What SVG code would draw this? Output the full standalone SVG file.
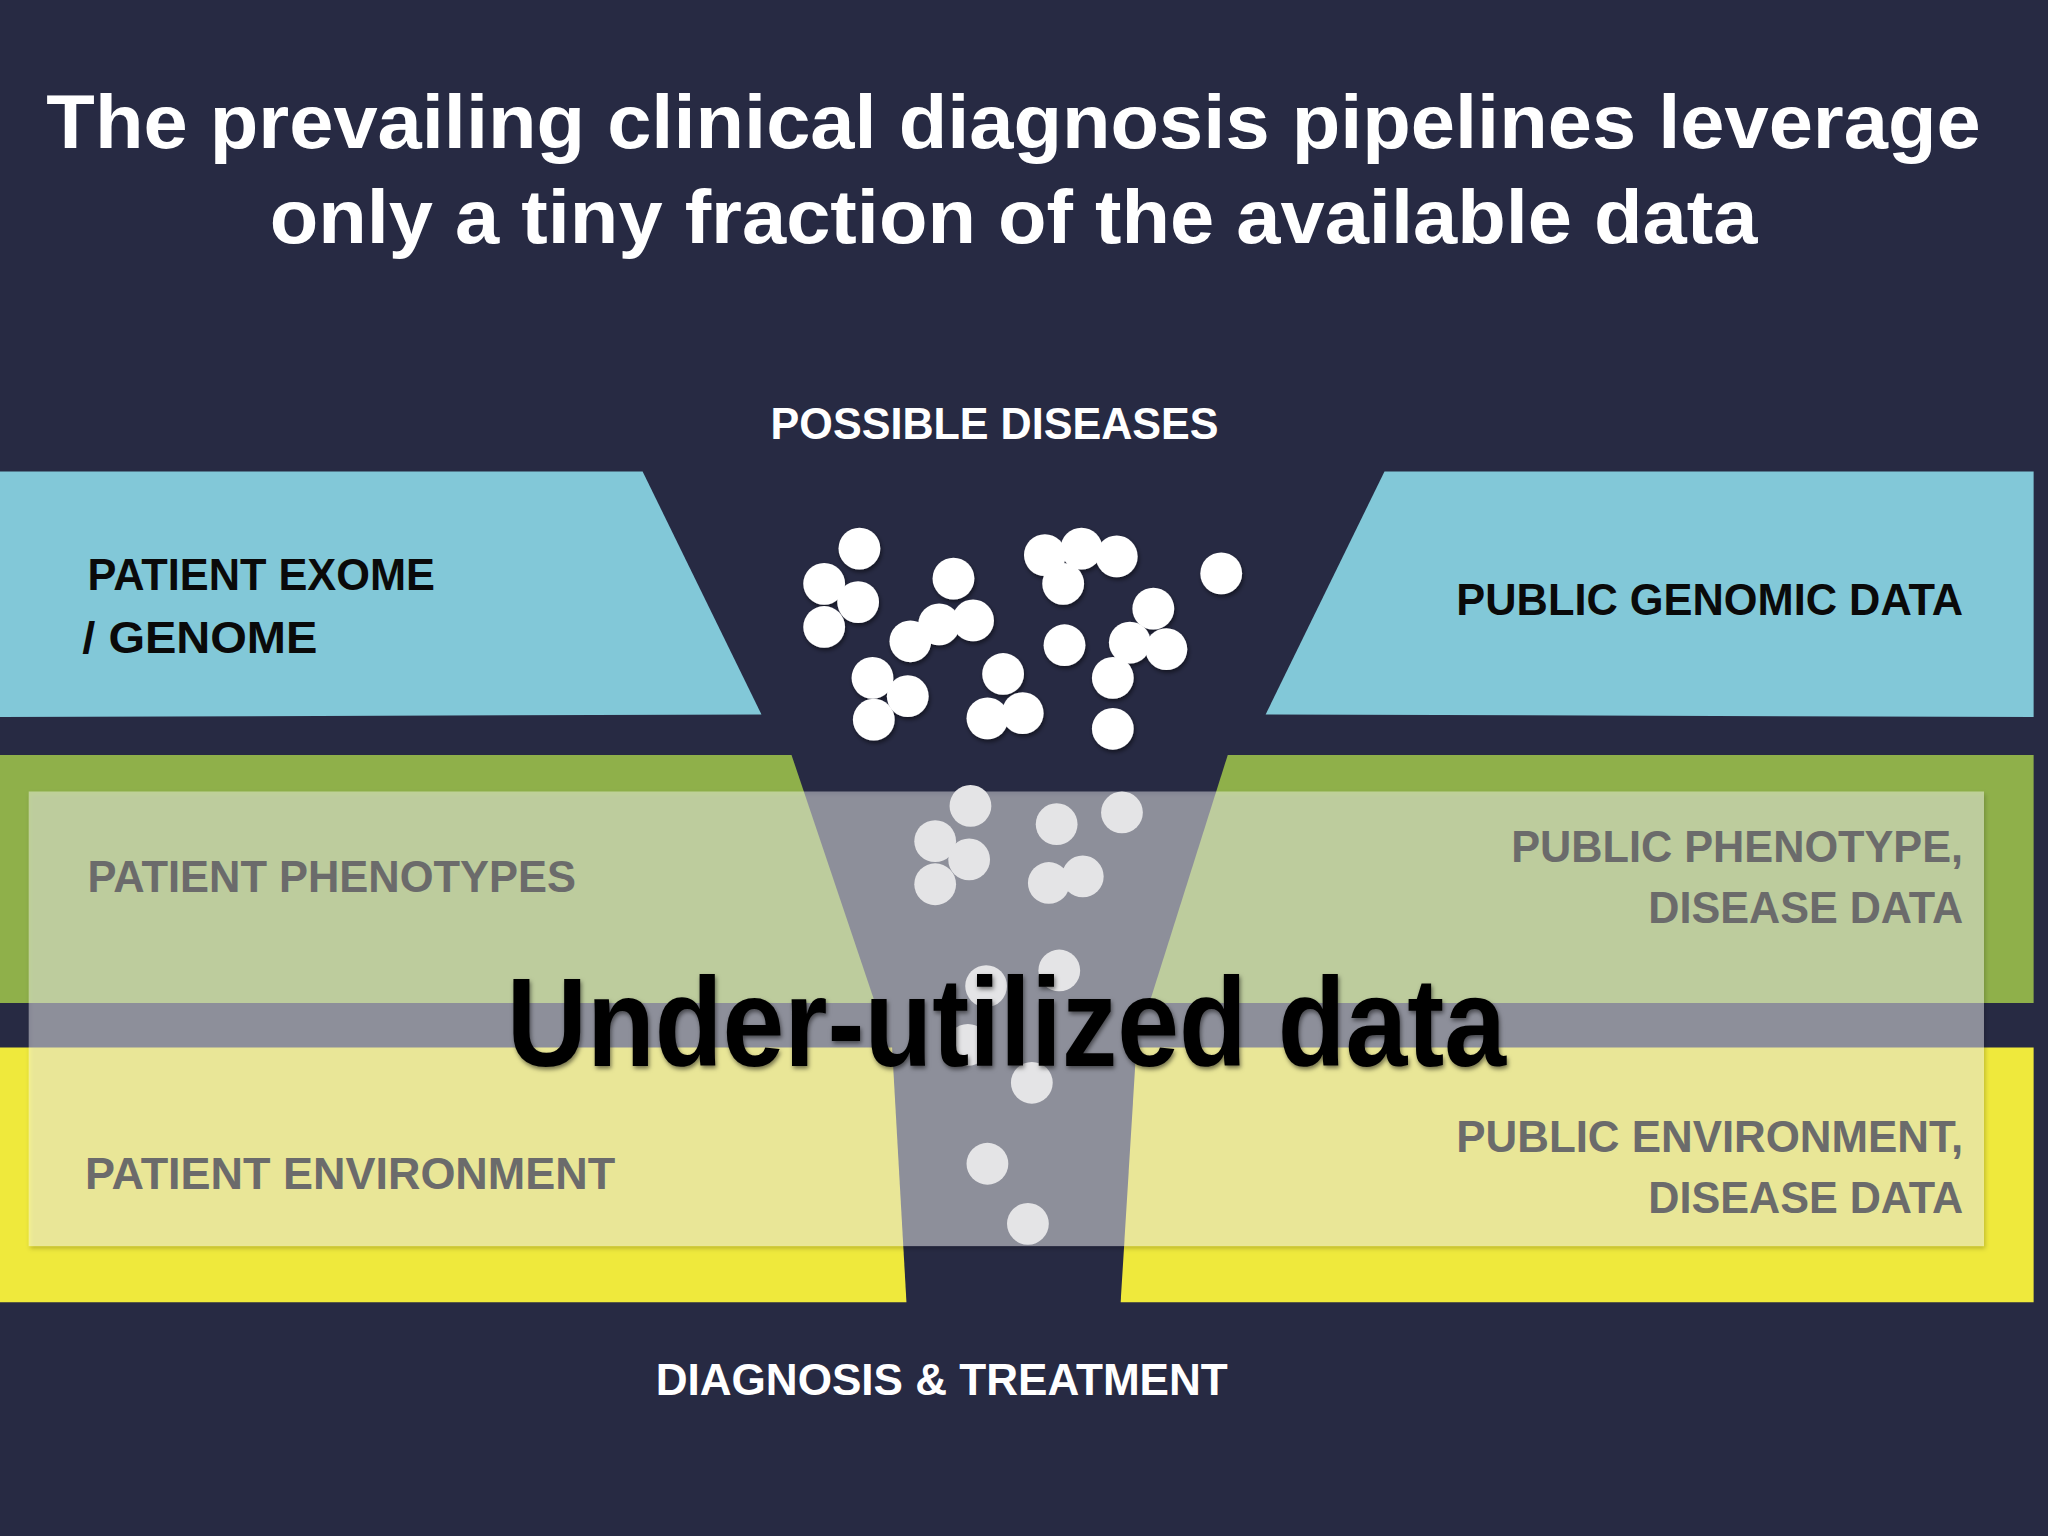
<svg xmlns="http://www.w3.org/2000/svg" width="2048" height="1536" viewBox="0 0 2048 1536">
<defs>
<style>
.lbl{font-family:"Liberation Sans","DejaVu Sans",sans-serif;font-size:34px;font-weight:bold;}
.w{fill:#ffffff}.k{fill:#0a0a0a}.g{fill:#6b6b6b}
.d{fill:#ffffff}.d2{fill:#e4e4e6}
</style>
<filter id="sh" x="-50%" y="-50%" width="200%" height="200%"><feDropShadow dx="1" dy="2" stdDeviation="1.5" flood-color="#000" flood-opacity="0.5"/></filter>
</defs>
<rect width="2048" height="1536" fill="#272a43"/>
<g transform="scale(1.30612)">
<g id="title" font-family="Liberation Sans,Arial,sans-serif" font-weight="bold" font-size="58" fill="#fff" text-anchor="middle">
<text x="776" y="113" textLength="1481" lengthAdjust="spacingAndGlyphs">The prevailing clinical diagnosis pipelines leverage</text>
<text x="776" y="186" textLength="1139" lengthAdjust="spacingAndGlyphs">only a tiny fraction of the available data</text>
</g>
<g id="bands">
<polygon points="0,361 492,361 583,547 0,549" fill="#82c8d8"/>
<polygon points="1060,361 1557,361 1557,549 969,547" fill="#82c8d8"/>
<polygon points="0,578 606,578 670,768 0,768" fill="#8fb04a"/>
<polygon points="940,578 1557,578 1557,768 880,768" fill="#8fb04a"/>
<polygon points="0,802 683,802 694,997 0,997" fill="#efe93c"/>
<polygon points="870,802 1557,802 1557,997 858,997" fill="#efe93c"/>
</g>
<g id="dots" filter="url(#sh)">
<circle class="d" cx="658" cy="420" r="16"/><circle class="d" cx="631" cy="447" r="16"/><circle class="d" cx="657" cy="461" r="16"/><circle class="d" cx="631" cy="480" r="16"/><circle class="d" cx="730" cy="443" r="16"/><circle class="d" cx="719" cy="478" r="16"/><circle class="d" cx="745" cy="475" r="16"/><circle class="d" cx="697" cy="491" r="16"/><circle class="d" cx="800" cy="425" r="16"/><circle class="d" cx="828" cy="420" r="16"/><circle class="d" cx="855" cy="426" r="16"/><circle class="d" cx="814" cy="447" r="16"/><circle class="d" cx="935" cy="439" r="16"/><circle class="d" cx="883" cy="466" r="16"/><circle class="d" cx="815" cy="494" r="16"/><circle class="d" cx="865" cy="492" r="16"/><circle class="d" cx="893" cy="497" r="16"/><circle class="d" cx="668" cy="519" r="16"/><circle class="d" cx="695" cy="533" r="16"/><circle class="d" cx="768" cy="516" r="16"/><circle class="d" cx="852" cy="519" r="16"/><circle class="d" cx="669" cy="551" r="16"/><circle class="d" cx="756" cy="550" r="16"/><circle class="d" cx="783" cy="546" r="16"/><circle class="d" cx="852" cy="558" r="16"/>
</g>
<rect id="overlay" x="22" y="606" width="1497" height="348" fill="#ffffff" fill-opacity="0.42" filter="url(#sh)"/>
<g id="dots-lower">
<circle class="d2" cx="743" cy="617" r="16"/><circle class="d2" cx="809" cy="631" r="16"/><circle class="d2" cx="859" cy="622" r="16"/><circle class="d2" cx="716" cy="644" r="16"/><circle class="d2" cx="742" cy="658" r="16"/><circle class="d2" cx="716" cy="677" r="16"/><circle class="d2" cx="803" cy="676" r="16"/><circle class="d2" cx="829" cy="671" r="16"/><circle class="d2" cx="811" cy="743" r="16"/><circle class="d2" cx="755" cy="755" r="16"/><circle class="d2" cx="741" cy="800" r="16"/><circle class="d2" cx="790" cy="829" r="16"/><circle class="d2" cx="756" cy="891" r="16"/><circle class="d2" cx="787" cy="937" r="16"/>
</g>
<g id="possible-diseases"><text class="lbl w" x="590" y="336" textLength="343" lengthAdjust="spacingAndGlyphs">POSSIBLE DISEASES</text></g>
<g id="patient-exome"><text class="lbl k" x="67" y="452" textLength="266" lengthAdjust="spacingAndGlyphs">PATIENT EXOME</text><text class="lbl k" x="63" y="500" textLength="180" lengthAdjust="spacingAndGlyphs">/ GENOME</text></g>
<g id="public-genomic"><text class="lbl k" x="1115" y="471" textLength="388" lengthAdjust="spacingAndGlyphs">PUBLIC GENOMIC DATA</text></g>
<g id="patient-phenotypes"><text class="lbl g" x="67" y="683" textLength="374" lengthAdjust="spacingAndGlyphs">PATIENT PHENOTYPES</text></g>
<g id="public-phenotype"><text class="lbl g" x="1157" y="660" textLength="346" lengthAdjust="spacingAndGlyphs">PUBLIC PHENOTYPE,</text><text class="lbl g" x="1262" y="707" textLength="241" lengthAdjust="spacingAndGlyphs">DISEASE DATA</text></g>
<g id="patient-environment"><text class="lbl g" x="65" y="910" textLength="406" lengthAdjust="spacingAndGlyphs">PATIENT  ENVIRONMENT</text></g>
<g id="public-environment"><text class="lbl g" x="1115" y="882" textLength="388" lengthAdjust="spacingAndGlyphs">PUBLIC ENVIRONMENT,</text><text class="lbl g" x="1262" y="929" textLength="241" lengthAdjust="spacingAndGlyphs">DISEASE DATA</text></g>
<g id="diagnosis"><text class="lbl w" x="502" y="1068" textLength="438" lengthAdjust="spacingAndGlyphs">DIAGNOSIS &amp; TREATMENT</text></g>
<g id="under-utilized"><text x="388" y="816" font-family="Liberation Sans,Arial,sans-serif" font-size="96" font-weight="bold" fill="#000" filter="url(#sh)" textLength="765" lengthAdjust="spacingAndGlyphs">Under-utilized data</text></g>
</g>
</svg>
